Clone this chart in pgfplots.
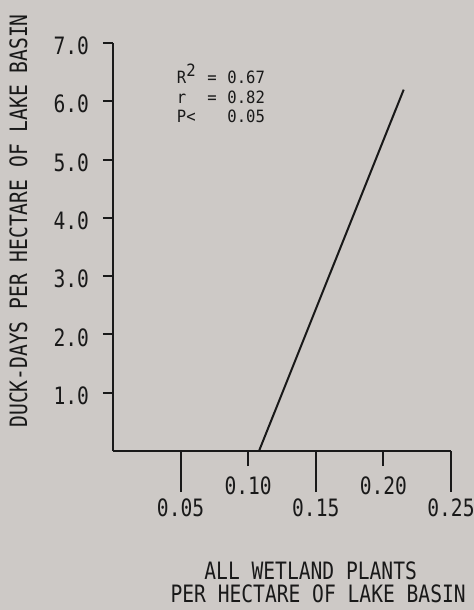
\documentclass[border=0pt]{standalone}
\usepackage{fontspec}
\setmainfont{DejaVu Sans Mono}[FakeStretch=0.82]
\newfontfamily\annfont{DejaVu Sans Mono}[FakeStretch=0.92]
\usepackage{pgfplots}
\pgfplotsset{compat=1.18}
\definecolor{bg}{RGB}{205,201,198}
\definecolor{ink}{RGB}{25,25,25}
\begin{document}
\begin{tikzpicture}
\path[use as bounding box, fill=bg] (-56.5bp,-79.5bp) rectangle (180.5bp,225.5bp);
\begin{axis}[
  at={(0,0)}, anchor=south west, scale only axis,
  width=169bp, height=204bp,
  xmin=0, xmax=0.25, ymin=0, ymax=7,
  axis lines=left,
  axis line style={-, line width=1bp, draw=ink},
  tick align=outside,
  every tick/.style={line width=1bp, draw=ink},
  major tick length=20.5bp,
  xtick={0.05,0.15,0.25}, xticklabels={0.05,0.15,0.25},
  extra x ticks={0.10,0.20}, extra x tick labels={0.10,0.20},
  extra x tick style={major tick length=7.5bp, xticklabel style={yshift=-2bp}},
  ytick=\empty,
  extra y ticks={1,2,3,4,5,6,7},
  extra y tick labels={1.0,2.0,3.0,4.0,5.0,6.0,7.0},
  extra y tick style={major tick length=5bp, yticklabel style={xshift=-3.5bp, yshift=-1.5bp}},
  /pgf/number format/assume math mode=true,
  tick label style={font=\fontsize{12}{14}\selectfont, text=ink},
  label style={font=\fontsize{12}{11.5}\selectfont, text=ink},
  xlabel={ALL WETLAND PLANTS\hspace*{7.5bp}\\PER HECTARE OF LAKE BASIN},
  xlabel style={align=center, at={(axis description cs:0.607,0)}, anchor=north, yshift=-55bp, inner sep=0pt},
  ylabel={DUCK-DAYS PER HECTARE OF LAKE BASIN},
  ylabel style={at={(axis description cs:-0.2796,0.564)}, anchor=center, rotate=0},
  clip=false,
]
\addplot[ink, line width=1bp] coordinates {(0.108,0) (0.215,6.2)};
\begin{scope}[every node/.style={anchor=base west, inner sep=0pt, text=ink, font=\annfont\fontsize{8.5}{10}\selectfont}]
\node at (axis cs:0.047,6.31) {R\raisebox{3.5bp}{2}};
\node at (axis cs:0.0695,6.31) {=};
\node at (axis cs:0.0843,6.31) {0.67};
\node at (axis cs:0.047,5.97) {r};
\node at (axis cs:0.0695,5.97) {=};
\node at (axis cs:0.0843,5.97) {0.82};
\node at (axis cs:0.047,5.63) {P<};
\node at (axis cs:0.0843,5.63) {0.05};
\end{scope}
\end{axis}
\end{tikzpicture}
\end{document}
